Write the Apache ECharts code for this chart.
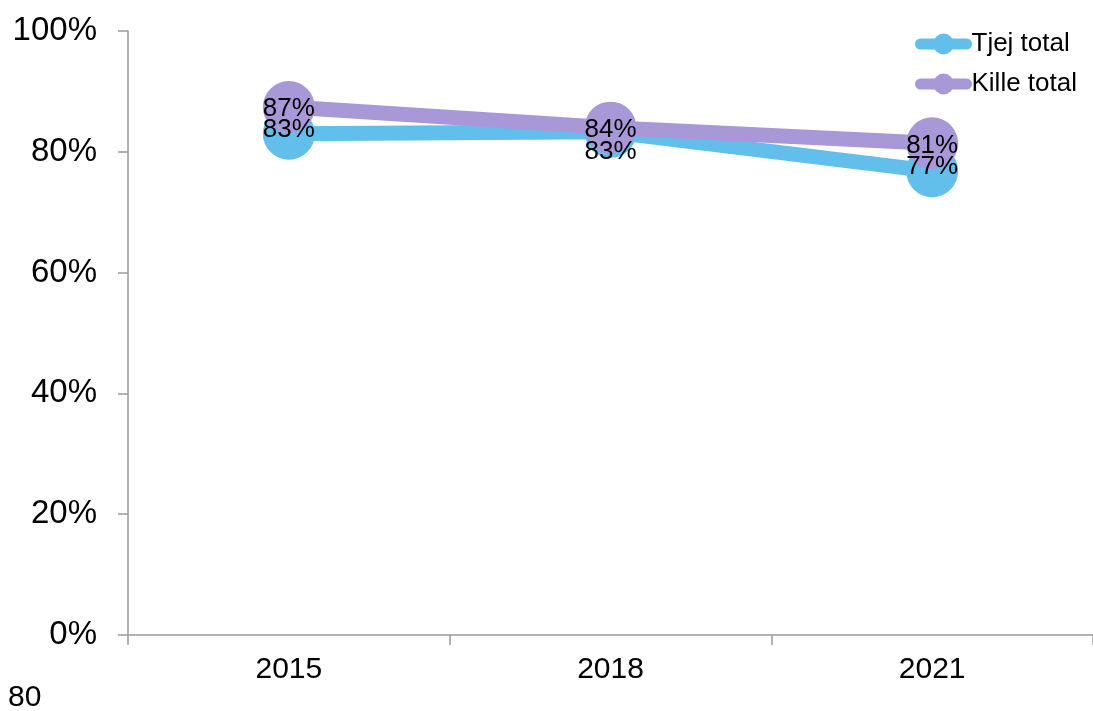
<!DOCTYPE html>
<html>
<head>
<meta charset="utf-8">
<script src="https://cdn.jsdelivr.net/npm/echarts@6/dist/echarts.min.js"></script>
<style>
html,body{margin:0;padding:0;background:#fff;}
#chart{width:1093px;height:711px;}
</style>
</head>
<body>
<div id="chart"></div>
<script>
const categories = ['2015', '2018', '2021'];
const tjejTotal = [83.0, 83.3, 76.8];
const killeTotal = [87.4, 84.0, 81.4];
const yTicks = [0, 20, 40, 60, 80, 100];
const footnote = '80';

const FONT = '"Liberation Sans", Arial, sans-serif';
const BLUE = '#62bfeb';
const PURPLE = '#a898d8';

function labelData(values, offsets) {
  return values.map((v, i) => ({ value: v, label: { offset: offsets[i] } }));
}
const labelCommon = {
  show: true, position: 'inside',
  fontFamily: FONT, fontSize: 26, color: '#000', opacity: 1,
  formatter: p => Math.round(p.value) + '%'
};
function lineSeries(name, values, color, z) {
  return {
    name, type: 'line', data: values, color,
    lineStyle: { width: 15, color },
    symbol: 'circle', symbolSize: 52,
    itemStyle: { color },
    label: { show: false },
    z
  };
}
function labelSeries(name, values, offsets) {
  return {
    name, type: 'scatter', data: labelData(values, offsets),
    symbol: 'circle', symbolSize: 2,
    itemStyle: { color: 'rgba(0,0,0,0)' },
    label: labelCommon,
    silent: true,
    z: 10
  };
}

const chart = echarts.init(document.getElementById('chart'), null, { renderer: 'canvas' });
chart.setOption({
  backgroundColor: '#fff',
  animation: false,
  grid: { left: 128, right: 0, top: 31, bottom: 76, containLabel: false },
  legend: {
    orient: 'vertical',
    left: 910,
    top: 26,
    itemWidth: 46,
    itemHeight: 26,
    itemGap: 14,
    lineStyle: { width: 11, cap: 'round' },
    textStyle: { fontFamily: FONT, fontSize: 26, color: '#000' },
    data: ['Tjej total', 'Kille total']
  },
  xAxis: {
    type: 'category',
    data: categories,
    boundaryGap: true,
    axisLine: { lineStyle: { color: '#9a9a9a', width: 1.5 } },
    axisTick: { show: true, length: 10, lineStyle: { color: '#9a9a9a', width: 1.5 } },
    axisLabel: { fontFamily: FONT, fontSize: 30, color: '#000', margin: 20 },
    splitLine: { show: false }
  },
  yAxis: {
    type: 'value',
    min: yTicks[0],
    max: yTicks[yTicks.length - 1],
    interval: 20,
    axisLine: { show: true, lineStyle: { color: '#9a9a9a', width: 1.5 } },
    axisTick: { show: true, length: 10, lineStyle: { color: '#9a9a9a', width: 1.5 } },
    axisLabel: { fontFamily: FONT, fontSize: 33, color: '#000', margin: 31, formatter: '{value}%' },
    splitLine: { show: false }
  },
  series: [
    lineSeries('Tjej total', tjejTotal, BLUE, 2),
    lineSeries('Kille total', killeTotal, PURPLE, 3),
    labelSeries('Tjej label', tjejTotal, [[0, -4], [0, 20], [0, -4]]),
    labelSeries('Kille label', killeTotal, [[0, 2], [0, 2], [0, 2]])
  ],
  graphic: [
    {
      type: 'text', left: 8, top: 683,
      style: { text: footnote, fontFamily: FONT, fontSize: 30, fill: '#000' }
    }
  ]
});
</script>
</body>
</html>
